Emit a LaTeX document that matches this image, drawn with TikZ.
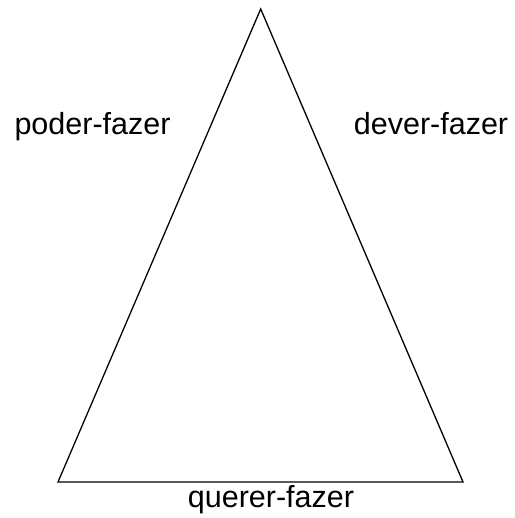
\documentclass[tikz,border=0pt]{standalone}
\usepackage{fontspec}
\setmainfont{Liberation Sans}
\begin{document}
\begin{tikzpicture}[x=1pt,y=-1pt,
  lbl/.style={anchor=base,inner sep=0pt,font=\fontsize{30.5}{36}\selectfont},
  edge/.style={line width=1.3pt,line join=miter}]
\useasboundingbox (0,0) rectangle (514,518);
\coordinate (top) at (260.7,9);
\coordinate (bl) at (58,482);
\coordinate (br) at (463,482);
\draw[edge] (top) -- (bl) -- (br) -- cycle;
\node[lbl] (poder) at (92.5,135) {poder-fazer};
\node[lbl] (dever) at (431,135) {dever-fazer};
\node[lbl] (querer) at (271,507) {querer-fazer};
\end{tikzpicture}
\end{document}
